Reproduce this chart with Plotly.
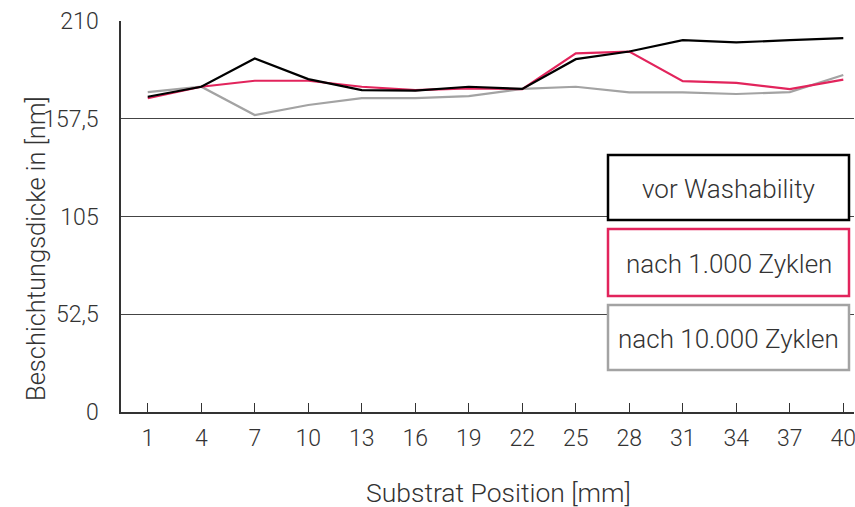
import plotly.graph_objects as go

positions = [1, 4, 7, 10, 13, 16, 19, 22, 25, 28, 31, 34, 37, 40]
vor_washability = [169.3, 174.7, 189.9, 178.8, 172.9, 172.6, 174.7, 173.5, 189.5, 193.6, 199.7, 198.5, 199.7, 200.8]
nach_1000 = [168.6, 174.7, 177.9, 177.9, 174.7, 172.9, 173.8, 173.4, 192.6, 193.6, 177.7, 176.8, 173.4, 178.5]
nach_10000 = [171.8, 174.7, 159.5, 164.9, 168.6, 168.6, 169.7, 173.5, 174.7, 171.7, 171.7, 170.8, 171.8, 181.0]
series_names = ["vor Washability", "nach 1.000 Zyklen", "nach 10.000 Zyklen"]
series_colors = ["#000000", "#e2245c", "#a3a3a3"]
y_tickvals = [0, 52.5, 105, 157.5, 210]
y_ticktext = ["0", "52,5", "105", "157,5", "210"]
x_title = "Substrat Position [mm]"
y_title = "Beschichtungsdicke in [nm]"

FONT = "Roboto, sans-serif"
TXT = "#333333"

fig = go.Figure()
# draw gray first, then red, then black on top
for name, vals, col in reversed(list(zip(series_names, [vor_washability, nach_1000, nach_10000], series_colors))):
    fig.add_trace(go.Scatter(x=positions, y=vals, mode="lines", name=name,
                             line=dict(color=col, width=2.2), showlegend=False))

W, H = 855, 507
PL, PT, PR, PB = 121, 21, 854, 412  # plot area in page pixels
L, T, R, B = PL, PT, W - PR, H - PB
pw, ph = PR - PL, PB - PT

def px_x(p):
    return (p - PL) / pw

def px_y(p):
    return (PB - p) / ph

boxes = [(155, 220), (229, 296), (305, 370)]
bx0, bx1 = 608, 849
for (y0, y1), name, col in zip(boxes, series_names, series_colors):
    fig.add_shape(type="rect", xref="paper", yref="paper",
                  x0=px_x(bx0), x1=px_x(bx1), y0=px_y(y1), y1=px_y(y0),
                  line=dict(color=col, width=2.5), fillcolor="white", layer="above")
    fig.add_annotation(xref="paper", yref="paper", x=px_x((bx0 + bx1) / 2), y=px_y((y0 + y1) / 2 + 1),
                       text=name, showarrow=False,
                       font=dict(family=FONT, size=26, color=TXT, weight=300),
                       xanchor="center", yanchor="middle")

# axis titles
fig.add_annotation(xref="paper", yref="paper", x=px_x(498), y=px_y(493), text=x_title,
                   showarrow=False, xanchor="center", yanchor="middle",
                   font=dict(family=FONT, size=26.5, color=TXT, weight=300))
fig.add_annotation(xref="paper", yref="paper", x=px_x(36), y=px_y(249), text=y_title,
                   showarrow=False, xanchor="center", yanchor="middle", textangle=-90,
                   font=dict(family=FONT, size=25.5, color=TXT, weight=300))

fig.update_layout(
    width=W, height=H,
    margin=dict(l=L, r=R, t=T, b=B, autoexpand=False),
    plot_bgcolor="white", paper_bgcolor="white",
    font=dict(family=FONT, size=23, color=TXT, weight=300),
    xaxis=dict(range=[-0.5, 40.6], tickvals=positions, ticktext=[str(p) for p in positions],
               showgrid=False, zeroline=False, showline=True, linecolor="#333333", linewidth=1.5,
               ticks="inside", ticklen=9, tickcolor="#333333", tickwidth=1.2,
               automargin=False, ticklabeloverflow="allow", ticklabelstandoff=5,
               tickfont=dict(size=23, color=TXT, weight=300)),
    yaxis=dict(range=[0, 210], tickvals=y_tickvals, ticktext=y_ticktext,
               showgrid=True, gridcolor="#444444", gridwidth=1.2, zeroline=False,
               showline=True, linecolor="#333333", linewidth=1.5, ticks="",
               ticklabelstandoff=16, automargin=False,
               tickfont=dict(size=23, color=TXT, weight=300)),
)

fig.write_html("out.html", config={"displayModeBar": False},
               post_script="document.body.style.margin='0';document.body.style.overflow='hidden';")
